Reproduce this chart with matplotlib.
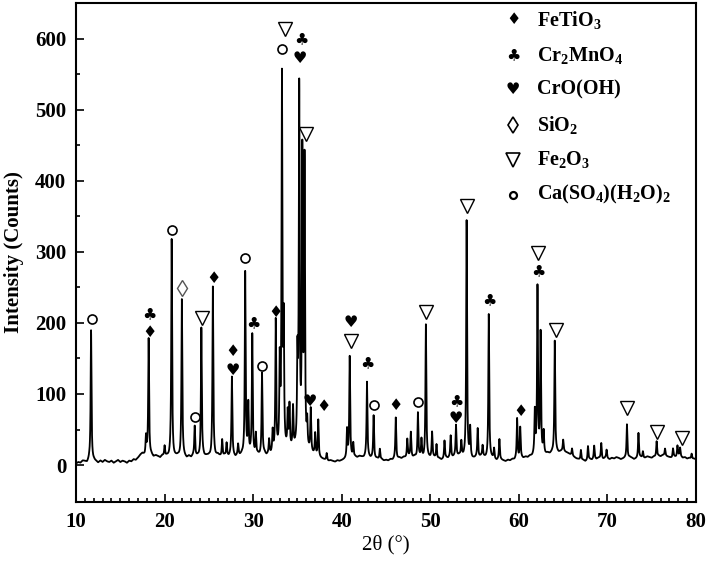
import numpy as np
import matplotlib.pyplot as plt

plt.rcParams['font.family'] = 'Liberation Serif'
plt.rcParams['mathtext.fontset'] = 'custom'
plt.rcParams['mathtext.rm'] = 'Liberation Serif:bold'
plt.rcParams['mathtext.bf'] = 'Liberation Serif:bold'
plt.rcParams['mathtext.it'] = 'Liberation Serif:bold'
plt.rcParams['mathtext.default'] = 'bf'

# background counts read every 0.25 deg from 10 to 80
base_start, base_step = 10.0, 0.25
baseline = [
    2, 4, 3, 6, 5, 3, 7, 4, 6, 5, 3, 6, 4, 7, 5, 4, 6, 3, 5, 7,
    4, 6, 5, 3, 6, 5, 8, 7, 10, 14, 16, 13, 15, 12, 14, 11, 13, 12, 10, 13,
    11, 12, 10, 13, 9, 11, 12, 10, 13, 11, 9, 12, 10, 13, 11, 12, 10, 14, 11, 12,
    12, 10, 13, 11, 14, 12, 10, 13, 12, 11, 14, 12, 10, 13, 12, 14, 11, 13, 12, 15,
    13, 11, 14, 12, 13, 15, 12, 14, 13, 15, 14, 16, 15, 17, 16, 18, 17, 19, 18, 20,
    19, 21, 20, 18, 17, 16, 15, 13, 12, 10, 9, 8, 7, 6, 5, 6, 5, 4, 6, 5,
    6, 7, 8, 9, 10, 9, 11, 10, 12, 11, 10, 12, 11, 9, 10, 8, 9, 7, 8, 6,
    7, 6, 8, 7, 9, 8, 10, 9, 11, 10, 12, 11, 10, 12, 9, 11, 10, 8, 9, 10,
    9, 11, 10, 8, 9, 7, 8, 10, 9, 11, 10, 12, 11, 13, 12, 10, 11, 9, 10, 8,
    9, 11, 10, 12, 11, 9, 8, 10, 9, 7, 6, 8, 7, 6, 5, 7, 6, 8, 7, 9,
    8, 10, 9, 11, 10, 12, 11, 13, 12, 14, 13, 15, 14, 16, 15, 17, 16, 18, 17, 19,
    20, 18, 17, 15, 13, 11, 9, 8, 6, 7, 5, 6, 8, 7, 9, 8, 10, 9, 8, 10,
    9, 8, 10, 9, 11, 10, 8, 9, 10, 9, 11, 10, 8, 9, 10, 11, 9, 10, 12, 11,
    10, 12, 11, 13, 12, 14, 13, 12, 11, 10, 12, 11, 13, 12, 10, 11, 9, 10, 8, 9,
    8,
]

# diffraction peaks: 2theta position and height above background
peak_pos = [11.7, 17.9, 18.2, 20.0, 20.8, 21.95, 23.4, 24.15, 25.45, 26.5,
            27.0, 27.6, 28.3, 29.1, 29.45, 29.9, 30.3, 31.0, 31.8, 32.2,
            32.55, 33.0, 33.25, 33.45, 33.9, 34.1, 34.5, 35.0, 35.2, 35.55,
            35.8, 36.1, 36.5, 37.0, 37.35, 38.3, 40.6, 40.9, 41.3, 42.85,
            43.6, 44.3, 46.1, 47.4, 47.8, 48.6, 49.0, 49.5, 50.2, 50.7,
            51.6, 52.3, 52.9, 53.5, 54.1, 54.5, 55.35, 55.9, 56.6, 57.2,
            57.8, 59.8, 60.15, 61.8, 62.1, 62.45, 62.8, 64.05, 65.0, 66.0,
            67.0, 67.8, 68.5, 69.3, 69.9, 72.2, 73.5, 74.0, 75.55, 76.5,
            77.4, 77.9, 78.2, 79.5]
peak_height = [185, 25, 165, 15, 305, 220, 42, 180, 238, 25,
               18, 110, 15, 258, 70, 168, 30, 115, 20, 30,
               185, 120, 520, 170, 50, 60, 58, 120, 500, 405,
               400, 35, 60, 30, 52, 10, 40, 142, 20, 105,
               60, 15, 58, 25, 35, 63, 25, 188, 35, 20,
               25, 30, 44, 20, 333, 40, 40, 15, 203, 15,
               28, 56, 43, 60, 235, 170, 30, 158, 15, 10,
               15, 20, 18, 22, 12, 48, 35, 10, 22, 10,
               12, 15, 12, 8]
peak_hwhm = 0.055

# phase markers above the peaks (2theta, counts)
fetio3 = [(18.25, 186), (25.5, 262), (27.65, 160), (32.5, 215), (37.9, 83),
          (46.1, 84), (60.2, 76)]
cr2mno4 = [(18.3, 211), (30.0, 199), (35.5, 598), (42.9, 143), (52.9, 89),
           (56.7, 231), (62.2, 272)]
crooh = [(27.65, 133), (35.3, 572), (36.35, 89), (41.05, 200), (52.9, 65)]
sio2 = [(22.0, 249)]
fe2o3 = [(24.2, 207), (33.6, 613), (36.0, 465), (41.05, 175), (49.5, 216),
         (54.15, 364), (62.2, 299), (64.15, 190), (72.25, 80), (75.6, 47),
         (78.4, 38)]
caso4 = [(11.8, 206), (20.8, 331), (23.4, 67), (29.1, 291), (31.0, 139),
         (33.3, 585), (43.65, 85), (48.65, 88)]

legend_labels = ['FeTiO$_3$', 'Cr$_2$MnO$_4$', 'CrO(OH)', 'SiO$_2$',
                 'Fe$_2$O$_3$', 'Ca(SO$_4$)(H$_2$O)$_2$']

# build the pattern
tt = np.arange(10.0, 80.0001, 0.01)
bx = base_start + base_step * np.arange(len(baseline))
counts = np.interp(tt, bx, baseline)
for p, h in zip(peak_pos, peak_height):
    counts = counts + h / (1 + ((tt - p) / peak_hwhm) ** 2)

fig = plt.figure(figsize=(7.09, 5.64), dpi=100)
ax = fig.add_axes([0.1072, 0.1099, 0.8745, 0.8848])
ax.plot(tt, counts, color='black', lw=1.3)

SUIT = 11.5

def suit(points, ch, size):
    for x, y in points:
        ax.text(x, y, ch, fontfamily='DejaVu Sans', fontsize=size,
                ha='center', va='center', color='black')

suit(fetio3, '\u2666', SUIT)
suit(cr2mno4, '\u2663', SUIT)
suit(crooh, '\u2665', SUIT)
ax.plot([p[0] for p in sio2], [p[1] for p in sio2], ls='none', marker='d',
        ms=8.5, mfc='white', mec='#555555', mew=1.0)
ax.plot([p[0] for p in fe2o3], [p[1] for p in fe2o3], ls='none', marker='v',
        ms=9.5, mfc='white', mec='black', mew=1.0)
ax.plot([p[0] for p in caso4], [p[1] for p in caso4], ls='none', marker='o',
        ms=6.5, mfc='white', mec='black', mew=1.2)

# legend drawn by hand
rows = [0.966, 0.894, 0.826, 0.756, 0.686, 0.616]
sx, tx = 0.705, 0.744
tr = ax.transAxes
for r, ch in zip(rows[:3], ['\u2666', '\u2663', '\u2665']):
    ax.text(sx, r, ch, transform=tr, fontfamily='DejaVu Sans',
            fontsize=SUIT, ha='center', va='center')
ax.plot([sx], [rows[3]], transform=tr, marker='d', ms=8.5, mfc='white',
        mec='black', mew=1.2)
ax.plot([sx], [rows[4]], transform=tr, marker='v', ms=9.5, mfc='white',
        mec='black', mew=1.2)
ax.plot([sx], [rows[5]], transform=tr, marker='o', ms=5, mfc='white',
        mec='black', mew=1.6)
for r, lab in zip(rows, legend_labels):
    ax.text(tx, r, lab, transform=tr, fontsize=14.5, fontweight='bold',
            ha='left', va='center')

ax.set_xlim(10, 80)
ax.set_ylim(-52, 650)
ax.set_xticks(np.arange(10, 81, 10))
ax.set_xticks(np.arange(10, 81, 1), minor=True)
ax.set_yticks(np.arange(0, 601, 100))
ax.set_yticks(np.arange(0, 651, 50), minor=True)
ax.tick_params(direction='in', which='both', top=False, right=False, width=1.2)
ax.tick_params(which='major', length=6, labelsize=15, pad=7)
ax.tick_params(which='minor', length=3)
for lab in ax.get_xticklabels() + ax.get_yticklabels():
    lab.set_fontweight('bold')
for s in ax.spines.values():
    s.set_linewidth(1.5)

ax.set_xlabel('2\u03b8 (\u00b0)', fontsize=15, labelpad=2)
ax.set_ylabel('Intensity (Counts)', fontsize=15, fontweight='bold', labelpad=8)

fig.savefig('out.png', dpi=100)
